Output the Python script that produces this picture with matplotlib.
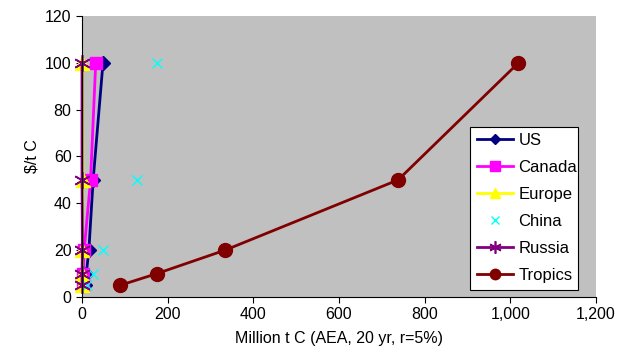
import matplotlib
matplotlib.use("Agg")
import matplotlib.pyplot as plt
from matplotlib.ticker import FuncFormatter

plt.rcParams['font.family'] = ['Liberation Sans', 'DejaVu Sans']

prices = [5, 10, 20, 50, 100]

us = [8, 10, 16, 26, 49]
canada = [2, 3, 5, 20, 32]
europe = [1, 1, 1, 2, 1]
china = [11, 25, 48, 128, 175]
russia = [0, 0, 1, 0, 0]
tropics = [89, 175, 334, 738, 1019]

fig = plt.figure(figsize=(6.18, 3.62), dpi=100)
ax = fig.add_axes([0.1327, 0.1796, 0.8317, 0.7762])
ax.set_facecolor("#C0C0C0")

kw = dict(clip_on=False)
ax.plot(us, prices, color="#000080", lw=2, marker="D", ms=7, label="US", **kw)
ax.plot(canada, prices, color="#FF00FF", lw=2, marker="s", ms=9, label="Canada", **kw)
ax.plot(europe, prices, color="#FFFF00", lw=2, marker="^", ms=10, label="Europe", **kw)
ax.plot(china, prices, color="#00FFFF", lw=0, marker="x", ms=7, mew=1, label="China", **kw)
ax.plot(russia, prices, color="#800080", lw=2, marker=(6, 2, 0), ms=12, mew=1.2,
        label="Russia", **kw)
ax.plot(tropics, prices, color="#800000", lw=2, marker="o", ms=10, label="Tropics", **kw)

ax.set_xlim(0, 1200)
ax.set_ylim(0, 120)
ax.set_xticks(range(0, 1201, 200))
ax.set_yticks(range(0, 121, 20))
ax.xaxis.set_major_formatter(FuncFormatter(lambda v, p: f"{int(v):,}"))
ax.tick_params(direction="out", length=4, labelsize=11.5, colors="black")
for s in ["top", "right"]:
    ax.spines[s].set_visible(False)
for s in ["left", "bottom"]:
    ax.spines[s].set_color("black")

ax.set_xlabel("Million t C (AEA, 20 yr, r=5%)", fontsize=11.5, labelpad=6)
ax.set_ylabel("$/t C", fontsize=11.5)

leg = ax.legend(loc="lower left", bbox_to_anchor=(0.755, 0.025, 0.21, 0.6),
                mode="expand", fancybox=False, framealpha=1, edgecolor="black",
                fontsize=12, handlelength=2.2, handletextpad=0.3,
                borderaxespad=0, borderpad=0.4, labelspacing=0.72,
                markerscale=0.75)
leg.get_frame().set_linewidth(0.8)

fig.savefig("out.png", dpi=100)
